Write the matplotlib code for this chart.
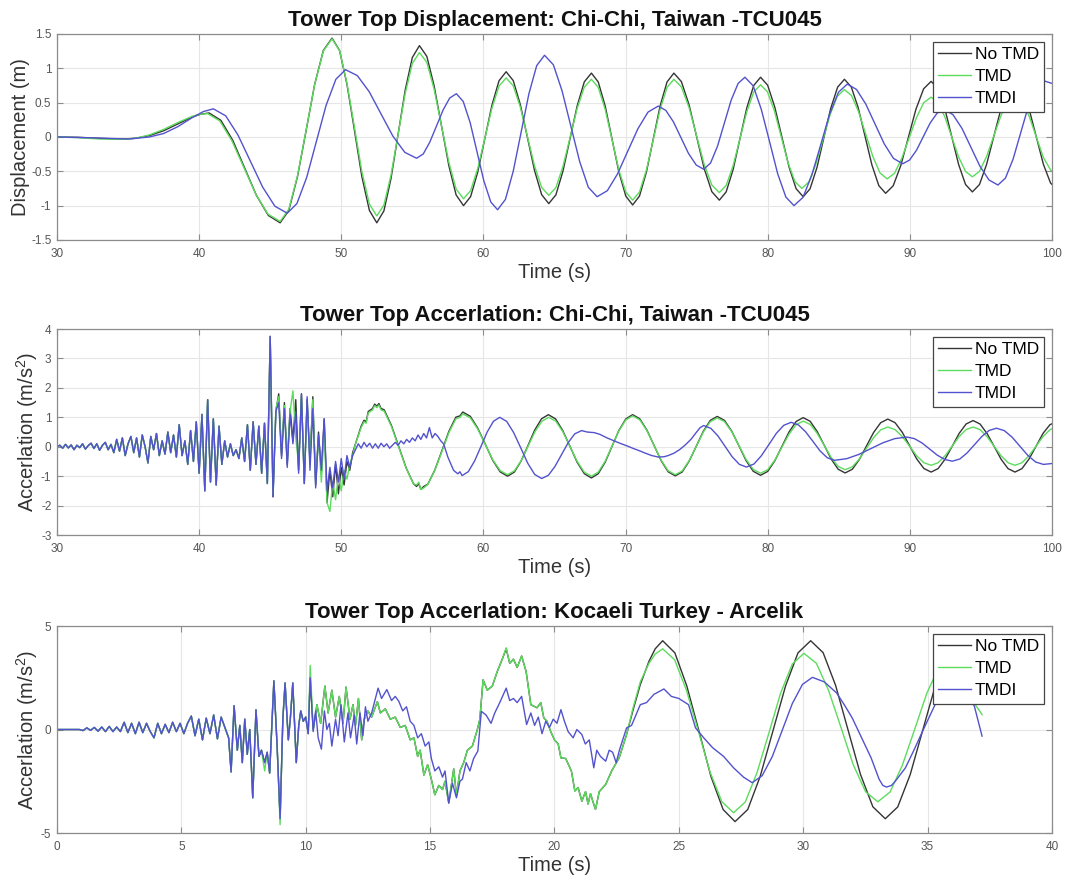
import numpy as np
import matplotlib
matplotlib.use('Agg')
import matplotlib.pyplot as plt

plt.rcParams['font.family'] = ['Liberation Sans', 'DejaVu Sans']
plt.rcParams['mathtext.default'] = 'regular'
plt.rcParams['axes.unicode_minus'] = False

# ---------------- legend / style data ----------------
series_names = ['No TMD', 'TMD', 'TMDI']
series_colors = ['#353535', '#5cdc5c', '#5252ce']

titles = ['Tower Top Displacement: Chi-Chi, Taiwan -TCU045',
          'Tower Top Accerlation: Chi-Chi, Taiwan -TCU045',
          'Tower Top Accerlation: Kocaeli Turkey - Arcelik']
ylabels = ['Displacement (m)', 'Accerlation (m/s$^2$)', 'Accerlation (m/s$^2$)']
xlabel = 'Time (s)'

p1_xticks = [30, 40, 50, 60, 70, 80, 90, 100]
p1_yticks = [-1.5, -1, -0.5, 0, 0.5, 1, 1.5]
p1_yticklabels = ['-1.5', '-1', '-0.5', '0', '0.5', '1', '1.5']
p2_xticks = [30, 40, 50, 60, 70, 80, 90, 100]
p2_yticks = [-3, -2, -1, 0, 1, 2, 3, 4]
p2_yticklabels = ['-3', '-2', '-1', '0', '1', '2', '3', '4']
p3_xticks = [0, 5, 10, 15, 20, 25, 30, 35, 40]
p3_yticks = [-5, 0, 5]
p3_yticklabels = ['-5', '0', '5']

# ---------------- Panel 1: displacement (time, value) ----------------
disp_notmd = [
    (30.0, 0.0), (31.5, -0.005), (33.0, -0.02), (34.5, -0.03), (35.5, -0.02), (36.5, 0.02),
    (37.5, 0.09), (38.5, 0.19), (39.5, 0.29), (40.1, 0.33), (40.7, 0.35), (41.53, 0.243),
    (42.37, -0.05), (43.2, -0.45), (44.03, -0.85), (44.87, -1.143), (45.7, -1.25),
    (46.31, -1.070), (46.92, -0.578), (47.53, 0.095), (48.13, 0.768), (48.74, 1.260), (49.35, 1.44),
    (49.88, 1.260), (50.40, 0.768), (50.93, 0.095), (51.45, -0.578), (51.98, -1.070), (52.5, -1.25),
    (53.0, -1.077), (53.5, -0.605), (54.0, 0.04), (54.5, 0.685), (55.0, 1.157), (55.5, 1.33),
    (56.02, 1.174), (56.53, 0.748), (57.05, 0.165), (57.57, -0.418), (58.08, -0.844), (58.6, -1.0),
    (59.1, -0.869), (59.6, -0.513), (60.1, -0.025), (60.6, 0.463), (61.1, 0.819), (61.6, 0.95),
    (62.1, 0.821), (62.6, 0.47), (63.1, -0.01), (63.6, -0.49), (64.1, -0.841), (64.6, -0.97),
    (65.1, -0.843), (65.6, -0.495), (66.1, -0.02), (66.6, 0.455), (67.1, 0.803), (67.6, 0.93),
    (68.08, 0.801), (68.57, 0.45), (69.05, -0.03), (69.53, -0.51), (70.02, -0.861), (70.5, -0.99),
    (70.98, -0.861), (71.47, -0.51), (71.95, -0.03), (72.43, 0.45), (72.92, 0.801), (73.4, 0.93),
    (73.93, 0.806), (74.47, 0.468), (75.0, 0.005), (75.53, -0.458), (76.07, -0.796), (76.6, -0.92),
    (77.08, -0.800), (77.57, -0.473), (78.05, -0.025), (78.53, 0.423), (79.02, 0.750), (79.5, 0.87),
    (80.0, 0.753), (80.5, 0.435), (81.0, 0.0), (81.5, -0.435), (82.0, -0.753), (82.5, -0.87),
    (82.98, -0.755), (83.47, -0.443), (83.95, -0.015), (84.43, 0.413), (84.92, 0.725), (85.4, 0.84),
    (85.88, 0.729), (86.37, 0.425), (86.85, 0.01), (87.33, -0.405), (87.82, -0.709), (88.3, -0.82),
    (88.83, -0.711), (89.37, -0.413), (89.9, -0.005), (90.43, 0.403), (90.97, 0.701), (91.5, 0.81),
    (91.98, 0.702), (92.47, 0.408), (92.95, 0.005), (93.43, -0.398), (93.92, -0.692), (94.4, -0.80),
    (94.9, -0.693), (95.4, -0.4), (95.9, 0.0), (96.4, 0.4), (96.9, 0.693), (97.4, 0.80),
    (97.9, 0.693), (98.4, 0.4), (98.9, 0.0), (99.4, -0.4), (99.9, -0.67), (100.0, -0.69)]

disp_tmd = [
    (30.0, 0.0), (31.5, -0.01), (33.0, -0.03), (34.5, -0.035), (35.5, -0.02), (36.5, 0.03),
    (37.5, 0.11), (38.5, 0.21), (39.5, 0.30), (40.05, 0.33), (40.6, 0.34), (41.45, 0.235),
    (42.3, -0.053), (43.15, -0.445), (44.0, -0.838), (44.85, -1.125), (45.7, -1.23),
    (46.31, -1.052), (46.92, -0.565), (47.53, 0.10), (48.13, 0.765), (48.74, 1.252), (49.35, 1.43),
    (49.88, 1.257), (50.40, 0.785), (50.93, 0.14), (51.45, -0.505), (51.98, -0.977), (52.5, -1.15),
    (53.0, -0.991), (53.5, -0.555), (54.0, 0.04), (54.5, 0.635), (55.0, 1.071), (55.5, 1.23),
    (56.02, 1.087), (56.53, 0.698), (57.05, 0.165), (57.57, -0.368), (58.08, -0.757), (58.6, -0.9),
    (59.1, -0.782), (59.6, -0.46), (60.1, -0.02), (60.6, 0.42), (61.1, 0.742), (61.6, 0.86),
    (62.1, 0.745), (62.6, 0.433), (63.1, 0.005), (63.6, -0.423), (64.1, -0.735), (64.6, -0.85),
    (65.1, -0.737), (65.6, -0.428), (66.1, -0.005), (66.6, 0.418), (67.1, 0.727), (67.6, 0.84),
    (68.08, 0.722), (68.57, 0.40), (69.05, -0.04), (69.53, -0.48), (70.02, -0.802), (70.5, -0.92),
    (70.98, -0.802), (71.47, -0.48), (71.95, -0.04), (72.43, 0.40), (72.92, 0.722), (73.4, 0.84),
    (73.93, 0.729), (74.47, 0.428), (75.0, 0.015), (75.53, -0.398), (76.07, -0.699), (76.6, -0.81),
    (77.08, -0.705), (77.57, -0.418), (78.05, -0.025), (78.53, 0.368), (79.02, 0.655), (79.5, 0.76),
    (79.98, 0.659), (80.47, 0.383), (80.95, 0.005), (81.43, -0.373), (81.92, -0.649), (82.4, -0.75),
    (82.9, -0.654), (83.4, -0.39), (83.9, -0.03), (84.4, 0.33), (84.9, 0.594), (85.4, 0.69),
    (85.9, 0.603), (86.4, 0.365), (86.9, 0.04), (87.4, -0.285), (87.9, -0.523), (88.4, -0.61),
    (88.92, -0.530), (89.43, -0.313), (89.95, -0.015), (90.47, 0.283), (90.98, 0.500), (91.5, 0.58),
    (91.98, 0.502), (92.47, 0.29), (92.95, 0.0), (93.43, -0.29), (93.92, -0.502), (94.4, -0.58),
    (94.9, -0.501), (95.4, -0.285), (95.9, 0.01), (96.4, 0.305), (96.9, 0.521), (97.4, 0.60),
    (97.9, 0.52), (98.4, 0.3), (98.9, 0.0), (99.4, -0.3), (99.9, -0.48), (100.0, -0.50)]

disp_tmdi = [
    (30.0, 0.0), (32.0, -0.01), (35.0, -0.03), (36.5, 0.0), (37.5, 0.05), (38.5, 0.15),
    (39.5, 0.28), (40.3, 0.37), (41.0, 0.41), (41.87, 0.308), (42.73, 0.03), (43.6, -0.35),
    (44.47, -0.73), (45.33, -1.008), (46.2, -1.11),
    (46.88, -0.970), (47.57, -0.588), (48.25, -0.065), (48.93, 0.458), (49.62, 0.840), (50.3, 0.98),
    (51.13, 0.894), (51.97, 0.658), (52.8, 0.335), (53.63, 0.013), (54.47, -0.224), (55.3, -0.31),
    (55.77, -0.247), (56.23, -0.075), (56.7, 0.16), (57.17, 0.395), (57.63, 0.567), (58.1, 0.63),
    (58.58, 0.517), (59.07, 0.208), (59.55, -0.215), (60.03, -0.638), (60.52, -0.947), (61.0, -1.06),
    (61.55, -0.909), (62.1, -0.498), (62.65, 0.065), (63.2, 0.628), (63.75, 1.039), (64.3, 1.19),
    (64.92, 1.052), (65.53, 0.675), (66.15, 0.16), (66.77, -0.355), (67.38, -0.732), (68.0, -0.87),
    (68.72, -0.782), (69.43, -0.54), (70.15, -0.21), (70.87, 0.12), (71.58, 0.362), (72.3, 0.45),
    (72.83, 0.388), (73.37, 0.22), (73.9, -0.01), (74.43, -0.24), (74.97, -0.408), (75.5, -0.47),
    (75.98, -0.380), (76.47, -0.135), (76.95, 0.2), (77.43, 0.535), (77.92, 0.780), (78.4, 0.87),
    (78.98, 0.745), (79.55, 0.403), (80.13, -0.065), (80.7, -0.533), (81.28, -0.875), (81.85, -1.0),
    (82.48, -0.881), (83.1, -0.558), (83.73, -0.115), (84.35, 0.328), (84.98, 0.651), (85.6, 0.77),
    (86.25, 0.692), (86.9, 0.48), (87.55, 0.19), (88.2, -0.1), (88.85, -0.312), (89.5, -0.39),
    (89.98, -0.337), (90.47, -0.193), (90.95, 0.005), (91.43, 0.203), (91.92, 0.347), (92.4, 0.40),
    (93.03, 0.326), (93.67, 0.125), (94.3, -0.15), (94.93, -0.425), (95.57, -0.626), (96.2, -0.70),
    (96.73, -0.598), (97.27, -0.32), (97.8, 0.06), (98.33, 0.44), (98.87, 0.718), (99.4, 0.82),
    (100.0, 0.78)]

# ---------------- Panel 2: Chi-Chi acceleration ----------------
cc_start, cc_step = 30.0, 0.2
cc_shared = [  # 30.0 .. 45.0, identical for all three
    0.0, 0.05, -0.05, 0.08, -0.04, 0.06, -0.1, 0.05, -0.03, 0.1, -0.08, 0.04, 0.12, -0.06, 0.1,
    -0.12, 0.05, 0.15, -0.1, 0.08, -0.2,
    0.25, -0.15, 0.3, -0.3, 0.1, 0.35, -0.2, 0.3, -0.35, 0.4, 0.0, -0.55, 0.35, -0.1, 0.45,
    -0.3, 0.2, -0.25, 0.5, -0.2,
    0.4, -0.35, 0.75, -0.3, 0.2, -0.6, 0.55, -0.5, 0.85, -0.9,
    1.1, -1.5, 1.6, -1.2, 0.95, -1.3, 0.7, -0.6,
    0.2, -0.35, 0.1, -0.3, -0.1, -0.4, 0.3,
    -0.5, 0.75, -0.8, 0.85, -0.6, 0.7, -0.9, 0.8, -1.25, 3.75]
cc_mid_start = 45.2
cc_mid_notmd = [-1.7, 1.2, 1.8, -0.3, 1.5, -0.6, 1.3, 0.2, 1.6, -0.8, 1.8, -1.25, 1.6, -0.5, 1.7,
                -1.3, 0.5, -0.9, 0.95, -1.9, -0.8, -1.7, -0.6, -1.6, -0.7, -1.3, -0.5, -0.8, -0.2, 0.1]
cc_mid_tmd = [-1.6, 1.3, 1.7, -0.2, 1.4, -0.5, 1.2, 1.9, 0.3, -0.6, 1.7, -1.1, 1.5, -0.6, 1.6,
              -1.2, 0.3, -1.2, 0.6, -1.9, -2.2, -1.2, -1.8, -1.0, -1.5, -0.8, -1.1, -0.6, -0.3, 0.1]
cc_mid_tmdi = [-1.7, 1.2, 1.5, -0.4, 1.3, -0.7, 1.1, 0.1, 1.2, -0.9, 1.8, -1.25, 1.7, -0.8, 1.3,
               -1.4, 0.4, -0.8, 0.95, -1.5, -0.7, -1.4, -0.5, -1.2, -0.4, -1.1, -0.3, -0.7,
               -0.3, -0.1, 0.1, -0.05, 0.15, 0.0, 0.12, -0.05, 0.1, -0.05, 0.12, 0.0, 0.1, -0.05,
               0.05, 0.15, 0.05, 0.2, 0.1, 0.25, 0.15, 0.3, 0.2, 0.4, 0.25, 0.45, 0.3, 0.65, 0.3,
               0.45, 0.35, 0.2]
cc_late_notmd = [
    (51.4, 0.7), (51.6, 0.9), (51.75, 0.85), (51.9, 1.2), (52.2, 1.3), (52.35, 1.45), (52.5, 1.38),
    (52.65, 1.47), (52.8, 1.3), (53.02, 1.256), (53.53, 0.725), (54.05, 0.0), (54.57, -0.725),
    (55.08, -1.256), (55.3, -1.35), (55.45, -1.25), (55.6, -1.45), (55.8, -1.35),
    (56.09, -1.274), (56.58, -0.793), (57.08, -0.135), (57.57, 0.523), (58.06, 1.004),
    (58.35, 1.05), (58.55, 1.18),
    (59.08, 1.034), (59.6, 0.635), (60.13, 0.09), (60.65, -0.455), (61.18, -0.854), (61.7, -1.0),
    (62.18, -0.860), (62.66, -0.478), (63.14, 0.045), (63.61, 0.568), (64.09, 0.950), (64.57, 1.09),
    (65.08, 0.946), (65.58, 0.553), (66.09, 0.015), (66.59, -0.523), (67.1, -0.916), (67.6, -1.06),
    (68.08, -0.916), (68.57, -0.523), (69.05, 0.015), (69.53, 0.553), (70.02, 0.946), (70.5, 1.09),
    (71.0, 0.951), (71.5, 0.57), (72.0, 0.05), (72.5, -0.47), (73.0, -0.851), (73.5, -0.99),
    (73.99, -0.855), (74.48, -0.485), (74.98, 0.02), (75.47, 0.525), (75.96, 0.895), (76.45, 1.03),
    (76.96, 0.896), (77.47, 0.53), (77.98, 0.03), (78.48, -0.47), (78.99, -0.836), (79.5, -0.97),
    (80.0, -0.839), (80.5, -0.48), (81.0, 0.01), (81.5, 0.5), (82.0, 0.859), (82.5, 0.99),
    (82.99, 0.864), (83.48, 0.52), (83.98, 0.05), (84.47, -0.42), (84.96, -0.764), (85.45, -0.89),
    (85.95, -0.767), (86.45, -0.433), (86.95, 0.025), (87.45, 0.483), (87.95, 0.817), (88.45, 0.94),
    (88.96, 0.819), (89.47, 0.49), (89.98, 0.04), (90.48, -0.41), (90.99, -0.739), (91.5, -0.86),
    (91.99, -0.743), (92.48, -0.423), (92.98, 0.015), (93.47, 0.453), (93.96, 0.773), (94.45, 0.89),
    (94.94, 0.773), (95.43, 0.453), (95.93, 0.015), (96.42, -0.423), (96.91, -0.743), (97.4, -0.86),
    (97.89, -0.743), (98.38, -0.423), (98.88, 0.015), (99.37, 0.453), (99.86, 0.75), (100.0, 0.78)]
cc_late_tmd = [
    (51.4, 0.65), (51.6, 0.85), (51.75, 0.8), (51.9, 1.15), (52.2, 1.25), (52.35, 1.4), (52.5, 1.33),
    (52.65, 1.42), (52.8, 1.25), (53.02, 1.209), (53.53, 0.688), (54.05, -0.025), (54.57, -0.738),
    (55.08, -1.259), (55.3, -1.3), (55.45, -1.2), (55.6, -1.45), (55.8, -1.4),
    (56.09, -1.278), (56.58, -0.808), (57.08, -0.165), (57.57, 0.478), (58.06, 0.948),
    (58.35, 1.0), (58.55, 1.12),
    (59.08, 0.981), (59.6, 0.603), (60.13, 0.085), (60.65, -0.433), (61.18, -0.811), (61.7, -0.95),
    (62.18, -0.819), (62.67, -0.463), (63.15, 0.025), (63.63, 0.513), (64.12, 0.869), (64.6, 1.0),
    (65.1, 0.866), (65.6, 0.5), (66.1, 0.0), (66.6, -0.5), (67.1, -0.866), (67.6, -1.0),
    (68.08, -0.863), (68.57, -0.488), (69.05, 0.025), (69.53, 0.538), (70.02, 0.913), (70.5, 1.05),
    (71.0, 0.916), (71.5, 0.55), (72.0, 0.05), (72.5, -0.45), (73.0, -0.816), (73.5, -0.95),
    (73.99, -0.821), (74.48, -0.468), (74.98, 0.015), (75.47, 0.498), (75.96, 0.851), (76.45, 0.98),
    (76.96, 0.854), (77.47, 0.51), (77.98, 0.04), (78.48, -0.43), (78.99, -0.774), (79.5, -0.9),
    (80.0, -0.781), (80.5, -0.458), (81.0, -0.015), (81.5, 0.428), (82.0, 0.751), (82.5, 0.87),
    (82.99, 0.759), (83.48, 0.458), (83.98, 0.045), (84.47, -0.368), (84.96, -0.669), (85.45, -0.78),
    (85.95, -0.683), (86.45, -0.418), (86.95, -0.055), (87.45, 0.308), (87.95, 0.573), (88.45, 0.67),
    (88.96, 0.583), (89.47, 0.345), (89.98, 0.02), (90.48, -0.305), (90.99, -0.543), (91.5, -0.63),
    (91.99, -0.543), (92.48, -0.305), (92.98, 0.02), (93.47, 0.345), (93.96, 0.583), (94.45, 0.67),
    (94.94, 0.583), (95.43, 0.345), (95.93, 0.02), (96.42, -0.305), (96.91, -0.543), (97.4, -0.63),
    (97.89, -0.543), (98.38, -0.305), (98.88, 0.02), (99.37, 0.345), (99.86, 0.58), (100.0, 0.61)]
cc_late_tmdi = [
    (57.2, 0.1), (57.5, -0.35), (57.9, -0.8), (58.2, -0.92), (58.35, -0.85), (58.5, -0.98),
    (58.94, -0.847), (59.38, -0.485), (59.83, 0.01), (60.27, 0.505), (60.71, 0.867), (61.15, 1.0),
    (61.64, 0.861), (62.13, 0.48), (62.63, -0.04), (63.12, -0.56), (63.61, -0.941), (64.1, -1.08),
    (64.57, -0.971), (65.03, -0.673), (65.5, -0.265), (65.97, 0.143), (66.43, 0.441), (66.7, 0.5),
    (66.9, 0.55), (67.3, 0.5), (67.8, 0.48), (68.2, 0.42), (68.7, 0.3), (69.2, 0.2), (69.6, 0.12),
    (70.1, 0.03), (70.5, -0.05), (71.0, -0.14), (71.4, -0.22), (71.85, -0.3), (72.3, -0.35),
    (72.7, -0.34), (73.0, -0.3), (73.4, -0.22), (73.8, -0.1), (74.2, 0.06), (74.6, 0.25),
    (75.0, 0.5), (75.25, 0.65), (75.5, 0.72),
    (76.0, 0.626), (76.5, 0.368), (77.0, 0.015), (77.5, -0.338), (78.0, -0.596), (78.5, -0.69),
    (79.03, -0.588), (79.55, -0.31), (80.08, 0.07), (80.6, 0.45), (81.13, 0.728), (81.65, 0.83),
    (82.16, 0.744), (82.67, 0.508), (83.18, 0.185), (83.68, -0.138), (84.19, -0.374), (84.7, -0.46),
    (85.55, -0.407), (86.4, -0.263), (87.25, -0.065), (88.1, 0.133), (88.95, 0.277), (89.8, 0.33),
    (90.33, 0.275), (90.87, 0.125), (91.4, -0.08), (91.93, -0.285), (92.47, -0.435), (93.0, -0.49),
    (93.52, -0.415), (94.03, -0.21), (94.55, 0.07), (95.07, 0.35), (95.58, 0.555), (96.1, 0.63),
    (96.65, 0.548), (97.2, 0.323), (97.75, 0.015), (98.3, -0.293), (98.85, -0.518), (99.4, -0.6),
    (100.0, -0.57)]

# ---------------- Panel 3: Kocaeli acceleration ----------------
kc_start, kc_step = 0.0, 0.15
kc_shared = [  # 0.0 .. 6.9, identical for all three
    0, 0, 0, 0, 0, 0, 0,
    -0.05, 0.08, -0.04, 0.1, -0.08, 0.12, -0.1, 0.15, -0.1, 0.12,
    -0.1, 0.35, -0.15, 0.3, -0.2, 0.35, -0.15, 0.3, -0.1, -0.4,
    0.3, -0.2, 0.25, -0.15, 0.35, -0.1, 0.3, -0.2, 0.3, 0.65,
    -0.3, 0.5, -0.5, 0.55, -0.2, 0.7, -0.45, 0.6, 0.1, -0.4]
kc_burst = [  # 7.0 .. 10.18, No TMD and TMDI
    (7.0, -2.05), (7.12, 1.15), (7.25, -1.0), (7.35, 0.2), (7.45, -1.6), (7.55, 0.5), (7.65, -1.2),
    (7.75, 0.0), (7.87, -3.3), (8.0, 0.95), (8.12, -1.3), (8.22, -1.0), (8.35, -1.6), (8.45, -1.1),
    (8.55, -2.1), (8.72, 2.35), (8.85, -0.8), (8.97, -4.3), (9.08, 0.5), (9.17, 2.25), (9.3, -0.5),
    (9.38, 0.5), (9.48, 2.25), (9.62, -1.6), (9.72, 0.2), (9.8, 0.9), (9.9, 0.4), (10.0, 0.6),
    (10.1, -0.2), (10.18, 2.5)]
kc_tmd_peaks = {8.35: -2.0, 8.97: -4.6, 10.18: 3.1, 18.06: 3.95}
kc_rest_notmd = [
    (10.3, 0.0), (10.45, 1.2), (10.6, 0.3), (10.77, 2.1), (10.9, 0.8), (11.05, 1.9), (11.2, 0.6),
    (11.35, 1.6), (11.5, 0.3), (11.62, 2.05), (11.78, 0.5), (11.9, 1.2), (12.0, 0.2), (12.12, 1.5),
    (12.25, -0.5), (12.35, 0.5), (12.5, 0.9), (12.65, 0.6), (12.88, 1.35), (13.0, 0.8), (13.2, 1.0),
    (13.4, 0.5), (13.6, 0.6), (13.8, 0.1), (14.0, 0.2), (14.2, -0.5), (14.35, -0.4), (14.5, -1.3),
    (14.6, -1.0), (14.75, -2.2), (14.9, -1.7), (15.05, -2.4), (15.19, -3.15), (15.35, -2.7),
    (15.5, -2.9), (15.6, -2.5), (15.75, -3.55), (15.95, -1.9), (16.06, -3.2), (16.2, -2.0),
    (16.35, -1.6), (16.5, -1.0), (16.7, -0.8), (16.9, 0.0), (17.0, 0.5), (17.13, 2.4), (17.3, 1.9),
    (17.5, 2.1), (17.7, 2.8), (17.9, 3.4), (18.06, 3.9), (18.2, 3.2), (18.35, 3.4), (18.5, 3.0),
    (18.68, 3.55), (18.86, 2.8), (19.05, 1.2), (19.3, 1.05), (19.45, 1.3), (19.57, 0.56), (19.7, 0.4),
    (19.85, -0.1), (20.0, -0.5), (20.15, -0.7), (20.26, -1.37), (20.45, -1.4), (20.68, -2.0),
    (20.82, -2.97), (20.95, -2.8), (21.1, -3.46), (21.25, -3.0), (21.35, -3.6), (21.45, -3.1),
    (21.55, -3.5), (21.65, -3.86), (21.8, -3.0), (22.06, -2.65), (22.3, -2.0), (22.6, -1.37),
    (22.9, -0.24), (23.15, 0.9), (23.45, 2.17), (23.8, 3.3), (24.05, 3.9), (24.35, 4.29),
    (24.84, 3.704), (25.32, 2.105), (25.81, -0.08), (26.29, -2.265), (26.78, -3.864), (27.26, -4.45),
    (27.77, -3.864), (28.27, -2.265), (28.78, -0.08), (29.29, 2.105), (29.79, 3.704), (30.3, 4.29),
    (30.8, 3.714), (31.3, 2.14), (31.8, -0.01), (32.3, -2.16), (32.8, -3.734), (33.3, -4.31),
    (33.8, -3.740), (34.3, -2.183), (34.8, -0.055), (35.3, 2.073), (35.8, 3.63), (36.3, 4.2),
    (36.8, 3.65), (37.2, 2.9)]
kc_tail_tmd = [
    (23.15, 1.0), (23.45, 2.3), (23.8, 3.2), (24.05, 3.65), (24.35, 3.9),
    (24.83, 3.369), (25.3, 1.92), (25.78, -0.06), (26.25, -2.04), (26.73, -3.489), (27.2, -4.02),
    (27.67, -3.504), (28.14, -2.095), (28.62, -0.17), (29.09, 1.755), (29.56, 3.164), (30.03, 3.68),
    (30.53, 3.2), (31.02, 1.888), (31.52, 0.095), (32.01, -1.698), (32.51, -3.01), (33.0, -3.49),
    (33.49, -3.022), (33.98, -1.743), (34.48, 0.005), (34.97, 1.753), (35.46, 3.032), (35.95, 3.5),
    (36.35, 2.7), (36.75, 1.5), (37.19, 0.72)]
kc_rest_tmdi = [
    (10.3, -0.1), (10.4, 0.9), (10.5, -0.4), (10.63, -0.95), (10.75, 0.9), (10.85, 0.0), (10.95, 0.3),
    (11.05, -0.8), (11.2, 0.5), (11.3, -0.3), (11.42, 1.2), (11.55, -0.6), (11.7, 0.8), (11.8, -0.4),
    (11.95, 0.7), (12.05, -0.7), (12.18, 0.8), (12.3, -0.3), (12.4, 1.1), (12.5, 0.4), (12.65, 0.8),
    (12.91, 2.0), (13.05, 1.5), (13.26, 1.93), (13.45, 1.4), (13.6, 1.6), (13.74, 1.37), (13.9, 0.9),
    (14.05, 1.1), (14.2, 0.4), (14.35, 0.2), (14.5, -0.4), (14.65, -0.2), (14.8, -0.8), (14.95, -0.6),
    (15.05, -1.4), (15.19, -2.0), (15.35, -1.8), (15.5, -2.3), (15.6, -2.0), (15.75, -3.55),
    (15.9, -2.6), (16.06, -3.3), (16.2, -2.5), (16.3, -2.4), (16.45, -1.6), (16.6, -2.0),
    (16.75, -1.4), (16.92, -1.04), (17.06, 0.88), (17.25, 0.7), (17.45, 0.3), (17.6, 0.8),
    (17.8, 1.3), (18.06, 2.0), (18.2, 1.4), (18.35, 1.5), (18.5, 1.3), (18.68, 1.6), (18.88, 0.24),
    (19.05, 0.8), (19.2, 0.2), (19.35, 0.6), (19.5, -0.2), (19.65, 0.4), (19.8, 0.1), (19.95, 0.5),
    (20.1, 0.3), (20.26, 0.96), (20.4, 0.4), (20.55, -0.1), (20.75, -0.4), (20.9, 0.0), (21.1, -0.24),
    (21.24, -0.7), (21.4, -0.5), (21.58, -1.85), (21.7, -1.0), (21.85, -1.3), (22.06, -1.53),
    (22.2, -1.0), (22.34, -1.1), (22.48, -1.6), (22.62, -0.96), (22.9, 0.08), (23.1, 0.2),
    (23.45, 1.2), (23.7, 1.3), (24.0, 1.7), (24.4, 1.96), (24.7, 1.6), (25.0, 1.5), (25.39, 1.2),
    (25.67, 0.08), (26.0, -0.4), (26.36, -0.88), (26.8, -1.3), (27.2, -1.85), (27.6, -2.3),
    (27.95, -2.57), (28.35, -2.229), (28.76, -1.298), (29.16, -0.025), (29.56, 1.248),
    (29.97, 2.179), (30.37, 2.52), (30.85, 2.3), (31.34, 1.77), (31.65, 1.2), (31.97, 0.56),
    (32.35, -0.4), (32.73, -1.37), (33.05, -2.4), (33.2, -2.7), (33.35, -2.78), (33.55, -2.7),
    (33.7, -2.5), (34.11, -1.85), (34.45, -1.0), (34.8, -0.08), (35.3, 1.2), (35.7, 2.0),
    (36.1, 2.2), (36.5, 1.9), (36.88, 1.13), (37.19, -0.32)]


# ---------------- assembly helpers ----------------
def unpack(pairs):
    a = np.asarray(pairs, dtype=float)
    return a[:, 0], a[:, 1]


def sampled(start, step, values):
    v = np.asarray(values, dtype=float)
    return start + step * np.arange(len(v)), v


def join(*parts):
    return (np.concatenate([p[0] for p in parts]), np.concatenate([p[1] for p in parts]))


p1 = [unpack(disp_notmd), unpack(disp_tmd), unpack(disp_tmdi)]

cc0 = sampled(cc_start, cc_step, cc_shared)
p2 = [join(cc0, sampled(cc_mid_start, cc_step, cc_mid_notmd), unpack(cc_late_notmd)),
      join(cc0, sampled(cc_mid_start, cc_step, cc_mid_tmd), unpack(cc_late_tmd)),
      join(cc0, sampled(cc_mid_start, cc_step, cc_mid_tmdi), unpack(cc_late_tmdi))]

kc0 = sampled(kc_start, kc_step, kc_shared)
kc_notmd = join(kc0, unpack(kc_burst), unpack(kc_rest_notmd))
kc_tmd_pairs = [(t, kc_tmd_peaks.get(t, v)) for (t, v) in kc_burst + kc_rest_notmd if t < 23.0] + kc_tail_tmd
kc_tmd = join(kc0, unpack(kc_tmd_pairs))
kc_tmdi = join(kc0, unpack(kc_burst), unpack(kc_rest_tmdi))
p3 = [kc_notmd, kc_tmd, kc_tmdi]

# ---------------- figure ----------------
fig = plt.figure(figsize=(10.67, 8.8), dpi=100)
rects = [[0.0534, 0.7273, 0.9325, 0.2341],
         [0.0534, 0.3920, 0.9325, 0.2341],
         [0.0534, 0.0534, 0.9325, 0.2352]]
panels = [
    (p1, (30, 100), p1_xticks, (-1.5, 1.5), p1_yticks, p1_yticklabels),
    (p2, (30, 100), p2_xticks, (-3, 4), p2_yticks, p2_yticklabels),
    (p3, (0, 40), p3_xticks, (-5, 5), p3_yticks, p3_yticklabels),
]

spine_col = '#8c8c8c'
for i, (data, xl, xt, yl, yt, ytl) in enumerate(panels):
    ax = fig.add_axes(rects[i])
    for (t, v), name, col in zip(data, series_names, series_colors):
        ax.plot(t, v, color=col, lw=1.0, label=name)
    ax.set_xlim(*xl)
    ax.set_ylim(*yl)
    ax.set_xticks(xt, [str(x) for x in xt])
    ax.set_yticks(yt, ytl)
    ax.grid(True, color='#e6e6e6', lw=0.8)
    ax.set_axisbelow(True)
    ax.tick_params(direction='in', top=True, right=True, length=4, width=0.8,
                   color=spine_col, labelcolor='#555555', labelsize=8.5)
    ax.tick_params(axis='x', pad=6)
    ax.tick_params(axis='y', pad=4)
    for s in ax.spines.values():
        s.set_color(spine_col)
        s.set_linewidth(0.9)
    ax.set_title(titles[i], fontsize=16, fontweight='bold', pad=6, color='#111111')
    ax.set_xlabel(xlabel, fontsize=14.5, color='#333333', labelpad=2)
    ax.set_ylabel(ylabels[i], fontsize=14.5, color='#333333', labelpad=0.5)
    leg = ax.legend(loc='upper right', fontsize=12.5, frameon=True, fancybox=False,
                    framealpha=1.0, edgecolor='#444444', borderpad=0.3, labelspacing=0.4,
                    handlelength=1.9, handletextpad=0.2, borderaxespad=0.45)
    leg.get_frame().set_linewidth(0.9)

fig.savefig('out.png', dpi=100)
